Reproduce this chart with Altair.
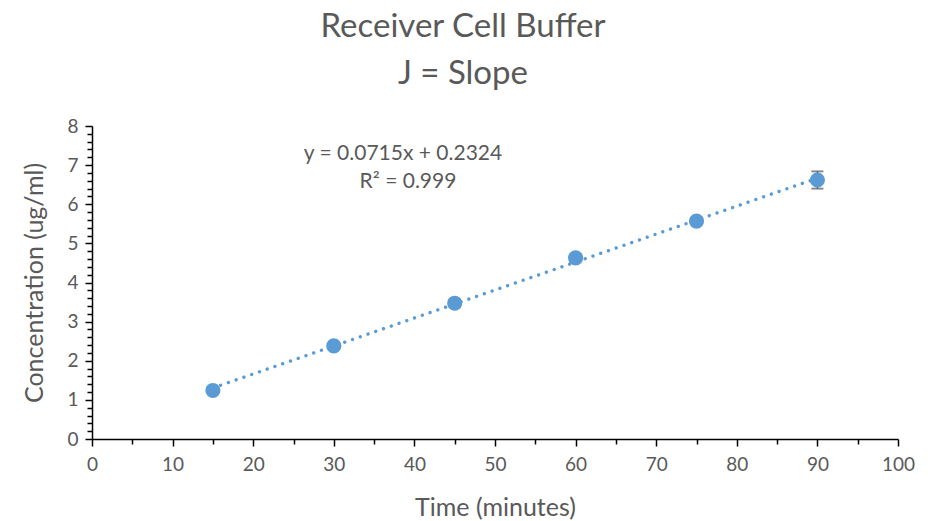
import altair as alt
import pandas as pd

# Receiver cell concentration over time
time_min = [15, 30, 45, 60, 75, 90]
conc = [1.24, 2.38, 3.47, 4.63, 5.57, 6.62]
conc_err = [0.05, 0.07, 0.10, 0.10, 0.08, 0.22]

# Linear trendline as reported
slope = 0.0715
intercept = 0.2324
r_squared = 0.999
trend_x = [15, 90]

x_ticks = [i * 5 for i in range(21)]
y_ticks = [round(i * 0.2, 1) for i in range(41)]

FONT = "Lato"
GREY = "#595959"
BLUE = "#5B9BD5"
Y_TITLE = "Concentration (ug/ml)"
X_TITLE = "Time (minutes)"

pts = pd.DataFrame({"t": time_min, "c": conc, "err": conc_err})
pts["lo"] = pts["c"] - pts["err"]
pts["hi"] = pts["c"] + pts["err"]

trend = pd.DataFrame({"t": trend_x})
trend["c"] = slope * trend["t"] + intercept

x_scale = alt.Scale(domain=[0, 100], nice=False, zero=True)
y_scale = alt.Scale(domain=[0, 8], nice=False, zero=True)

x_axis = alt.Axis(
    title=X_TITLE,
    values=x_ticks,
    tickCount=len(x_ticks),
    labelExpr="datum.value % 10 === 0 ? format(datum.value, 'd') : ''",
    tickSize={"condition": {"test": "datum.value % 10 === 0", "value": 7}, "value": 5},
    grid=False,
    labelOverlap=False,
    labelFlush=False,
    labelFont=FONT, labelFontSize=19, labelColor=GREY, labelPadding=9,
    titleFont=FONT, titleFontSize=25, titleColor=GREY, titleFontWeight="normal",
    titlePadding=21,
    domainColor="black", domainWidth=1.5, tickColor="black", tickWidth=1.5,
)
y_axis = alt.Axis(
    title=Y_TITLE,
    values=y_ticks,
    tickCount=len(y_ticks),
    labelExpr="datum.value % 1 === 0 ? format(datum.value, 'd') : ''",
    tickSize={"condition": {"test": "datum.value % 1 === 0", "value": 7}, "value": 5},
    grid=False,
    labelOverlap=False,
    labelFlush=False,
    labelFont=FONT, labelFontSize=19, labelColor=GREY, labelPadding=7,
    titleFont=FONT, titleFontSize=25, titleColor=GREY, titleFontWeight="normal",
    titlePadding=19,
    domainColor="black", domainWidth=1.5, tickColor="black", tickWidth=1.5,
)

base = alt.Chart(pts)

trendline = alt.Chart(trend).mark_line(
    color=BLUE, strokeWidth=3.4, strokeDash=[0.01, 8.2], strokeCap="round"
).encode(
    x=alt.X("t:Q", scale=x_scale, axis=x_axis),
    y=alt.Y("c:Q", scale=y_scale, axis=y_axis),
)

errbars = base.mark_errorbar(
    ticks={"size": 12, "thickness": 2, "color": GREY},
    rule={"strokeWidth": 1.5, "color": GREY},
).encode(
    x=alt.X("t:Q", scale=x_scale, title=X_TITLE),
    y=alt.Y("lo:Q", scale=y_scale, title=Y_TITLE),
    y2="hi:Q",
)

points = base.mark_circle(size=230, opacity=1, color=BLUE).encode(
    x=alt.X("t:Q", scale=x_scale, title=X_TITLE),
    y=alt.Y("c:Q", scale=y_scale, title=Y_TITLE),
)

eq_text = f"y = {slope}x + {intercept}"
r2_text = f"R² = {r_squared}"

equation = alt.Chart(pd.DataFrame({"txt": [eq_text]})).mark_text(
    font=FONT, fontSize=21, color=GREY, align="center", baseline="alphabetic"
).encode(text="txt:N", x=alt.value(311), y=alt.value(34))

r2 = alt.Chart(pd.DataFrame({"txt": [r2_text]})).mark_text(
    font=FONT, fontSize=21, color=GREY, align="center", baseline="alphabetic"
).encode(text="txt:N", x=alt.value(316), y=alt.value(62))

title1 = alt.Chart(pd.DataFrame({"txt": ["Receiver Cell Buffer"]})).mark_text(
    font=FONT, fontSize=33, color=GREY, align="center", baseline="alphabetic"
).encode(text="txt:N", x=alt.value(371), y=alt.value(-89))

title2 = alt.Chart(pd.DataFrame({"txt": ["J = Slope"]})).mark_text(
    font=FONT, fontSize=33, color=GREY, align="center", baseline="alphabetic"
).encode(text="txt:N", x=alt.value(371), y=alt.value(-42))

chart = alt.layer(trendline, errbars, points, equation, r2, title1, title2).properties(
    width=806,
    height=313,
    autosize=alt.AutoSizeParams(type="none"),
    padding={"left": 92, "top": 126, "right": 45, "bottom": 82},
    background="white",
).configure_view(stroke=None)

chart.save("out.html", embed_options={"renderer": "svg", "actions": False})
